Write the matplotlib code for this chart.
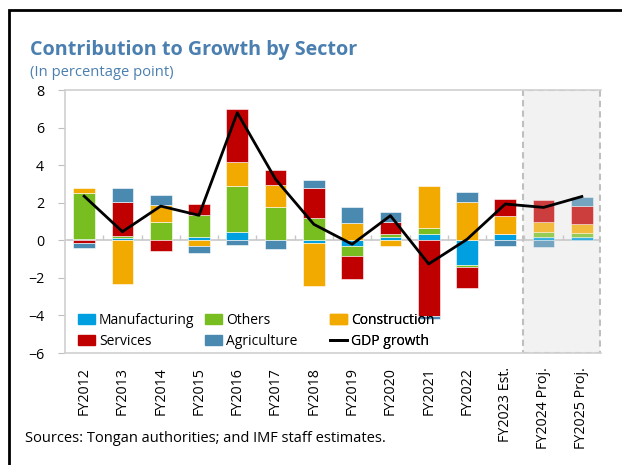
import numpy as np
import matplotlib
matplotlib.use("Agg")
import matplotlib.pyplot as plt
from matplotlib.patches import Rectangle, Patch
from matplotlib.lines import Line2D

plt.rcParams['font.family'] = ['Open Sans', 'DejaVu Sans']

categories = ["FY2012", "FY2013", "FY2014", "FY2015", "FY2016", "FY2017", "FY2018",
              "FY2019", "FY2020", "FY2021", "FY2022", "FY2023 Est.", "FY2024 Proj.", "FY2025 Proj."]
manufacturing = [0.05, 0.10, 0.00, 0.16, 0.42, 0.00, -0.12, -0.28, 0.16, 0.35, -1.30, 0.35, 0.19, 0.18]
others        = [2.45, 0.15, 0.96, 1.18, 2.47, 1.77, 1.18, -0.53, 0.20, 0.32, -0.13, 0.00, 0.25, 0.21]
construction  = [0.27, -2.32, 0.93, -0.30, 1.27, 1.15, -2.34, 0.90, -0.28, 2.23, 2.05, 0.92, 0.55, 0.48]
services      = [-0.12, 1.77, -0.55, 0.60, 2.81, 0.80, 1.60, -1.26, 0.64, -4.05, -1.11, 0.95, 1.13, 0.95]
agriculture   = [-0.30, 0.76, 0.50, -0.36, -0.25, -0.45, 0.45, 0.88, 0.53, -0.15, 0.50, -0.30, -0.35, 0.51]
gdp_growth    = [2.35, 0.46, 1.82, 1.33, 6.79, 3.25, 0.85, -0.21, 1.31, -1.26, 0.05, 1.93, 1.75, 2.33]
n_projection = 2

series = [("Manufacturing", manufacturing, "#009FDF"),
          ("Others", others, "#78BE20"),
          ("Construction", construction, "#F2A900"),
          ("Services", services, "#C00000"),
          ("Agriculture", agriculture, "#4A8AB0")]

fig = plt.figure(figsize=(6.22, 4.65), dpi=100)
ax = fig.add_axes([65/622, 1-353/465, (601-65)/622, (353-90)/465])

x = np.arange(len(categories))
n = len(categories)
proj_start = n - n_projection

ax.axvspan(proj_start - 0.55, n - 0.53, facecolor="#f2f2f2", edgecolor="#bfbfbf",
           linestyle=(0, (3, 2)), linewidth=1.5, zorder=0)

pos_bottom = np.zeros(n)
neg_bottom = np.zeros(n)
alphas = np.where(x >= proj_start, 0.75, 1.0)
for name, vals, col in series:
    v = np.array(vals)
    bottoms = np.where(v >= 0, pos_bottom, neg_bottom)
    for i in range(n):
        ax.bar(x[i], v[i], bottom=bottoms[i], width=0.57, color=col, alpha=alphas[i],
               edgecolor="white", linewidth=0.4, zorder=2)
    pos_bottom += np.where(v >= 0, v, 0)
    neg_bottom += np.where(v < 0, v, 0)

ax.axhline(0, color="#c8c8c8", linewidth=1.2, zorder=1)
bounds = np.arange(n + 1) - 0.5
ax.vlines(bounds[1:-1], 0, 0.27, color="#c8c8c8", linewidth=1.0, zorder=1)

ax.plot(x, gdp_growth, color="black", linewidth=2.0, zorder=4)

ax.set_xlim(-0.5, n - 0.5)
ax.set_ylim(-6, 8)
ax.set_yticks(np.arange(-6, 9, 2))
ax.set_xticks(x)
ax.set_xticklabels(categories, rotation=90, fontsize=10.3, va="top", ha="center")
ax.tick_params(axis="x", length=0, pad=10)
ax.tick_params(axis="y", length=5, color="#bfbfbf", labelsize=10.3, pad=10)
for s in ["left", "top", "bottom"]:
    ax.spines[s].set_color("#d0d0d0")
    ax.spines[s].set_linewidth(1.2)
ax.spines["right"].set_visible(False)

legend_cols = [
    ([Patch(color="#009FDF"), Patch(color="#C00000")], ["Manufacturing", "Services"], 78),
    ([Patch(color="#78BE20"), Patch(color="#4A8AB0")], ["Others", "Agriculture"], 205),
    ([Patch(color="#F2A900"), Line2D([0], [0], color="black", lw=2)], ["Construction", "GDP growth"], 330),
]
for hs, ls, px in legend_cols:
    leg = ax.legend(hs, ls, frameon=False, fontsize=10, loc="lower left",
                    bbox_to_anchor=((px - 65) / 536, 0.015), handlelength=1.25, handletextpad=0.25,
                    labelspacing=0.45, borderaxespad=0.0, borderpad=0.0)
    ax.add_artist(leg)

fig.text(30/622, 1-55/465, "Contribution to Growth by Sector", fontsize=14.2, fontweight="bold",
         color="#4A7FB0", va="baseline", ha="left")
fig.text(30/622, 1-76/465, "(In percentage point)", fontsize=10.6, color="#4A7FB0",
         va="baseline", ha="left")
fig.text(25/622, 1-442/465, "Sources: Tongan authorities; and IMF staff estimates.", fontsize=10.5,
         color="black", va="baseline", ha="left")

fig.patches.append(Rectangle((8.7/622, -0.1), 1.2, 1 - 10.5/465 + 0.1, transform=fig.transFigure,
                             fill=False, edgecolor="black", linewidth=2.0, clip_on=False))

fig.savefig("out.png", dpi=100)
